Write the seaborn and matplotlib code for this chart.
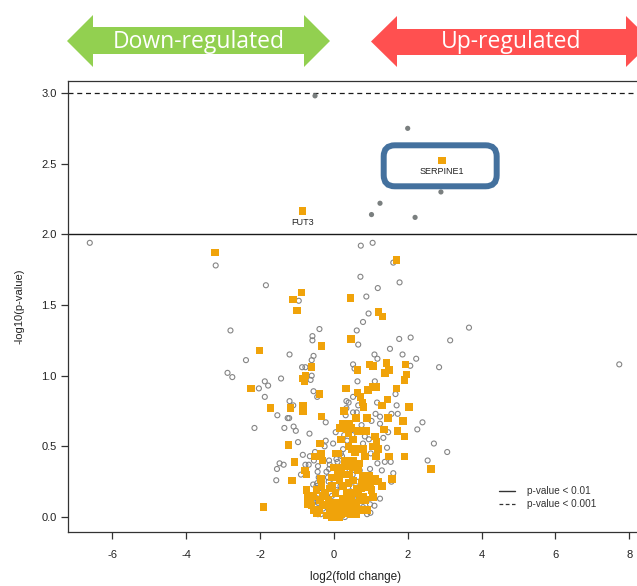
"""
Volcano plot: log2(fold change) vs -log10(p-value) with up/down banners.
"""
import numpy as np
import pandas as pd
import matplotlib
matplotlib.use("Agg")
import matplotlib.pyplot as plt
from matplotlib.patches import Polygon, FancyBboxPatch
from matplotlib.lines import Line2D
import seaborn as sns

# ─── Data ──────────────────────────────────────────────────────────────────────
# non-significant genes (grey open circles)
circ_x = [-6.61, -3.20, -1.84, -0.95, -2.80, -0.39, -0.58, -0.58, -1.20, -2.38,
          -0.55, -0.60, -0.86, -0.77, -2.88, -2.75, -1.43, -0.60, -0.63, -1.87,
          -1.78, -2.03, -1.87, -1.20, -1.10, -0.55, -0.45, 0.62, 0.66, 0.52,
          0.56, 0.64, 0.34, 0.40, 0.52, 0.64, 0.73, 0.72, 1.05, 1.61,
          1.78, 1.19, 0.88, 0.94, 0.79, 3.66, 3.15, 1.77, 2.08, 1.52,
          1.10, 1.18, 1.86, 2.23, 2.07, 2.85, 7.73, 1.11, 1.67, 1.17,
          1.70, -1.53, -1.25, -1.21, -2.15, -1.34, -1.09, -1.03, -0.66, -0.22,
          -0.97, -0.84, -0.65, -1.47, -1.36, -1.54, -0.77, -0.68, -0.43, -0.89,
          -0.74, -0.44, -0.41, -1.56, -0.13, -0.11, -0.13, -0.20, -0.16, -0.14,
          -0.22, -0.25, 0.07, 0.10, 0.14, 0.20, 0.19, 0.22, 0.32, 0.34,
          0.32, 0.36, 0.50, -0.45, -0.56, -0.41, -0.51, -0.48, -0.43, -0.43,
          -0.29, 0.07, 0.18, 0.43, 0.52, 0.14, 0.07, 0.43, 0.52, 1.56,
          1.73, 2.40, 2.26, 2.71, 3.07, 2.54, 1.61, 1.56, 1.25, 0.99,
          0.98, 1.44, 1.38, 1.54, 1.18, 0.98, 1.34, 1.47, 1.25, 1.02,
          1.13, 1.25, 0.62, 0.52, 0.66, 0.75, 0.84, 0.79, 0.70, 0.66,
          0.62, 0.79, 0.57, -0.51, -0.54, -0.47, -0.43, -0.54, 0.43, 0.51,
          -0.06, 0.16, -0.05, 0.02, 0.25, 0.28, -0.02, 0.05, -0.35, 0.90,
          0.30, 1.00, 0.95, 1.30, 1.10]
circ_y = [1.94, 1.78, 1.64, 1.53, 1.32, 1.33, 1.28, 1.25, 1.15, 1.11,
          1.14, 1.11, 1.06, 1.06, 1.02, 0.99, 0.98, 1.00, 0.97, 0.96,
          0.93, 0.91, 0.85, 0.82, 0.79, 0.89, 0.85, 1.32, 1.22, 1.08,
          1.05, 0.96, 0.82, 0.81, 0.85, 0.87, 1.92, 1.70, 1.94, 1.80,
          1.66, 1.62, 1.56, 1.44, 1.38, 1.34, 1.25, 1.26, 1.27, 1.19,
          1.15, 1.12, 1.15, 1.12, 1.07, 1.06, 1.08, 0.96, 0.87, 0.81,
          0.79, 0.72, 0.70, 0.70, 0.63, 0.63, 0.64, 0.61, 0.59, 0.67,
          0.53, 0.44, 0.43, 0.38, 0.37, 0.34, 0.37, 0.37, 0.36, 0.30,
          0.30, 0.32, 0.28, 0.26, 0.40, 0.37, 0.34, 0.32, 0.28, 0.25,
          0.54, 0.50, 0.41, 0.39, 0.35, 0.33, 0.45, 0.43, 0.72, 0.77,
          0.66, 0.54, 0.58, 0.24, 0.23, 0.20, 0.14, 0.11, 0.10, 0.02,
          0.06, 0.19, 0.22, 0.18, 0.21, 0.03, 0.08, 0.03, 0.05, 0.73,
          0.73, 0.67, 0.62, 0.52, 0.46, 0.40, 0.31, 0.25, 0.13, 0.03,
          0.09, 0.49, 0.39, 0.39, 0.38, 0.34, 0.56, 0.60, 0.66, 0.68,
          0.73, 0.71, 0.74, 0.74, 0.79, 0.65, 0.57, 0.52, 0.33, 0.25,
          0.12, 0.07, 0.03, 0.46, 0.40, 0.22, 0.13, 0.13, 0.33, 0.30,
          0.07, 0.04, 0.15, 0.25, 0.48, 0.58, 0.52, 0.60, 0.02, 0.02,
          0.00, 0.45, 0.55, 0.33, 0.08]

# fold-change filter hits (orange squares)
sq_x = [-3.22, -0.87, -1.11, -1.00, 0.45, 0.46, -2.01, -0.34, -0.61, -0.77,
        -0.83, -0.79, -2.25, -0.39, 0.33, 0.64, -1.71, -1.17, -0.83, 0.64,
        1.70, 1.21, 1.32, 0.96, 1.06, 1.42, 1.50, 1.38, 1.94, 1.97,
        1.92, 0.92, 1.16, 1.05, 1.70, 0.72, 0.78, 0.81, 1.45, 1.29,
        2.03, -0.83, -0.33, -1.23, -0.37, -0.35, -0.51, -0.31, -1.06, -0.78,
        -0.74, -1.13, -0.35, -1.91, -0.74, -0.70, -0.70, -0.65, -0.47, -0.33,
        -0.24, -0.38, -0.29, -0.15, -0.11, -0.02, -0.20, 0.03, 0.16, 0.25,
        0.34, 0.16, 0.25, 0.39, 0.52, 0.48, 0.43, 0.25, 0.34, 0.16,
        0.52, 0.30, 0.34, 0.52, 0.43, 0.39, 0.34, 0.43, 0.52, 0.57,
        0.25, 0.39, 1.31, 1.47, 1.87, 1.36, 1.72, 1.92, 0.90, 0.70,
        0.88, 1.11, 1.15, 1.06, 1.20, 0.48, 0.52, 0.48, 0.62, 0.79,
        0.84, 0.70, 0.66, 0.79, 0.75, 0.62, 0.52, 0.79, 0.93, 0.70,
        0.52, 0.84, 1.14, 1.50, 1.91, 2.63, 1.58, 0.96, 1.11, 1.20,
        0.98, 1.31, 1.02, 1.06, 0.51, 0.66, -0.55, -0.45, -0.05, 0.08,
        0.60, 0.70, 0.90, -0.10, 0.05, 0.10, 0.00, 0.12, -0.05, 0.20,
        0.28, 0.60, 0.15, -0.60, -0.55, -0.40, -0.30, -0.20, -0.10, 0.00,
        0.10, 0.20, 0.30, 0.40, 0.45, 0.60, 0.65, 0.75, 0.85, 0.20,
        0.05, 0.25, -0.05]
sq_y = [1.87, 1.59, 1.54, 1.46, 1.55, 1.26, 1.18, 1.21, 1.06, 1.00,
        0.98, 0.96, 0.91, 0.87, 0.91, 0.88, 0.77, 0.77, 0.79, 1.04,
        1.82, 1.45, 1.42, 1.08, 1.07, 1.09, 1.04, 1.02, 1.08, 1.01,
        0.97, 0.90, 0.92, 0.92, 0.91, 0.85, 0.81, 0.78, 0.83, 0.79,
        0.78, 0.75, 0.71, 0.51, 0.52, 0.45, 0.43, 0.40, 0.39, 0.33,
        0.30, 0.26, 0.27, 0.07, 0.19, 0.14, 0.09, 0.12, 0.19, 0.22,
        0.17, 0.12, 0.09, 0.12, 0.07, 0.03, 0.01, 0.06, 0.10, 0.13,
        0.17, 0.26, 0.22, 0.24, 0.26, 0.12, 0.07, 0.05, 0.03, 0.00,
        0.03, 0.40, 0.36, 0.35, 0.30, 0.50, 0.62, 0.66, 0.40, 0.46,
        0.66, 0.59, 0.79, 0.70, 0.68, 0.62, 0.61, 0.57, 0.70, 0.61,
        0.61, 0.57, 0.53, 0.50, 0.48, 0.63, 0.55, 0.48, 0.48, 0.48,
        0.43, 0.38, 0.33, 0.29, 0.24, 0.20, 0.17, 0.14, 0.21, 0.12,
        0.07, 0.12, 0.43, 0.43, 0.43, 0.34, 0.27, 0.29, 0.27, 0.25,
        0.24, 0.22, 0.19, 0.14, 0.06, 0.61, 0.05, 0.03, 0.00, 0.02,
        0.02, 0.05, 0.05, 0.20, 0.17, 0.30, 0.35, 0.45, 0.28, 0.55,
        0.75, 0.70, 0.63, 0.08, 0.15, 0.05, 0.15, 0.08, 0.02, 0.10,
        0.05, 0.02, 0.10, 0.15, 0.02, 0.10, 0.17, 0.20, 0.25, 0.35,
        0.45, 0.30, 0.22]

# p < 0.01 genes (grey filled dots)
sig_x = [-0.51, 2.00, 2.90, 1.25, 1.02, 2.20]
sig_y = [2.98, 2.75, 2.30, 2.22, 2.14, 2.12]

# labelled genes
gene_names = ["SERPINE1", "FUT3"]
gene_x = [2.93, -0.86]
gene_y = [2.52, 2.165]

thresholds = [2.0, 3.0]          # -log10(0.01), -log10(0.001)
threshold_labels = ["p-value < 0.01", "p-value < 0.001"]

circles = pd.DataFrame({"lfc": circ_x, "nlp": circ_y})
squares = pd.DataFrame({"lfc": sq_x, "nlp": sq_y})
sig = pd.DataFrame({"lfc": sig_x, "nlp": sig_y})
genes = pd.DataFrame({"gene": gene_names, "lfc": gene_x, "nlp": gene_y})

ORANGE = "#F0A30A"
GREY = "#858585"

sns.set_theme(style="ticks")
plt.rcParams["font.family"] = ["Liberation Sans", "DejaVu Sans"]
plt.rcParams["axes.unicode_minus"] = False

W, H = 637, 586
fig = plt.figure(figsize=(W / 100, H / 100), dpi=100)
ax = fig.add_axes([68 / W, 1 - 532 / H, 576 / W, 451 / H])

sns.scatterplot(data=circles, x="lfc", y="nlp", ax=ax, marker="o", s=13,
                facecolors="none", edgecolor=GREY, linewidth=0.8, zorder=2)
sns.scatterplot(data=squares, x="lfc", y="nlp", ax=ax, marker="s", s=29,
                color=ORANGE, edgecolor="none", linewidth=0, zorder=3)
sns.scatterplot(data=sig, x="lfc", y="nlp", ax=ax, marker="o", s=14,
                color="#7a7f7f", edgecolor="none", linewidth=0, zorder=3)
sns.scatterplot(data=genes, x="lfc", y="nlp", ax=ax, marker="s", s=26,
                color=ORANGE, edgecolor="none", linewidth=0, zorder=3)
for _, r in genes.iterrows():
    ax.annotate(r["gene"], (r["lfc"], r["nlp"]), xytext=(0, -8),
                textcoords="offset points", ha="center", va="center",
                fontsize=6.5, color="#222222")

# highlight box around SERPINE1
sx, sy = gene_x[0], gene_y[0]
ax.add_patch(FancyBboxPatch((sx - 1.58, sy - 0.18), 3.06, 0.29,
                            boxstyle="round,pad=0,rounding_size=0.3",
                            mutation_aspect=0.262, fill=False,
                            edgecolor="#44719E", linewidth=4.3, zorder=4,
                            clip_on=False))

# threshold lines
ax.axhline(thresholds[0], color="#1a1a1a", lw=1.0, ls="-", zorder=1)
ax.axhline(thresholds[1], color="#1a1a1a", lw=0.9, ls=(0, (4, 3)), zorder=1)

ax.set_xlim(-7.2, 8.4)
ax.set_ylim(-0.106, 3.085)
ax.set_xticks(np.arange(-6, 9, 2))
ax.set_yticks(np.arange(0, 3.01, 0.5))
ax.set_yticklabels([f"{v:.1f}" for v in np.arange(0, 3.01, 0.5)])
ax.tick_params(axis="both", length=5, width=0.9, color="#333333",
               labelsize=8, labelcolor="#222222", pad=3)
ax.tick_params(axis="x", pad=8)
for side in ["left", "bottom", "top"]:
    ax.spines[side].set_color("#333333")
    ax.spines[side].set_linewidth(0.9)
ax.spines["right"].set_visible(False)

ax.set_xlabel("log2(fold change)", fontsize=8.5, color="#222222", labelpad=8)
ax.set_ylabel("-log10(p-value)", fontsize=8, color="#222222", labelpad=12)

handles = [Line2D([], [], color="#333333", lw=1.0, ls="-"),
           Line2D([], [], color="#333333", lw=0.9, ls=(0, (3, 2)))]
ax.legend(handles, threshold_labels, frameon=False, fontsize=7.2,
          handlelength=1.6, handletextpad=1.2, labelspacing=0.3,
          labelcolor="#333333", loc="upper left",
          bbox_to_anchor=(490 / W, 1 - 477 / H), bbox_transform=fig.transFigure)


# ─── Banner arrows (figure pixel coords) ──────────────────────────────────────
def banner(x0, x1, head, top, s_top, s_bot, bot, color, label):
    cy = (top + bot) / 2
    pts = [(x0, cy), (x0 + head, top), (x0 + head, s_top), (x1 - head, s_top),
           (x1 - head, top), (x1, cy), (x1 - head, bot), (x1 - head, s_bot),
           (x0 + head, s_bot), (x0 + head, bot)]
    pts = [(px / W, 1 - py / H) for px, py in pts]
    fig.patches.append(Polygon(pts, closed=True, color=color,
                               transform=fig.transFigure, lw=0))
    fig.text(((x0 + x1) / 2) / W, 1 - (cy + 1) / H, label, ha="center",
             va="center", color="white", fontsize=16.5,
             family=["Open Sans", "DejaVu Sans"])


banner(67, 330, 26, 15, 27, 54, 67, "#92D050", "Down-regulated")
banner(371, 652, 26, 16, 29, 55, 67, "#FF5050", "Up-regulated")

plt.savefig("out.png", dpi=100)
plt.close()
